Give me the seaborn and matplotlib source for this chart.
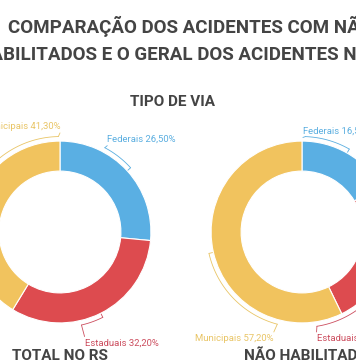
import numpy as np
import matplotlib.pyplot as plt
import seaborn as sns

# dados
categorias = ["Federais", "Estaduais", "Municipais"]
total_rs = [26.5, 32.2, 41.3]
nao_habilitados = [16.5, 26.3, 57.2]

titulo_1 = "COMPARAÇÃO DOS ACIDENTES COM NÃO"
titulo_2 = "HABILITADOS E O GERAL DOS ACIDENTES NO RS"
subtitulo = "TIPO DE VIA"
nome_total = "TOTAL NO RS"
nome_nh = "NÃO HABILITADOS"

cores = ["#5aafe3", "#dd4b4f", "#f1c35e"]
cores_texto = ["#5aaee0", "#cc4d5e", "#e9c566"]
cinza = "#444444"

sns.set_theme(style="white")
plt.rcParams['font.family'] = ['Roboto', 'DejaVu Sans']

W, H = 356, 364
fig = plt.figure(figsize=(W / 100, H / 100), dpi=100)
fig.patch.set_facecolor("white")


def fx(x):
    return x / W


def fy(y):
    return 1 - y / H


def fmt(v):
    return f"{v:.2f}".replace(".", ",") + "%"


# (angulo de ligacao, x texto, y texto, alinhamento) para cada categoria
layout_total = [(62, 0.52, 1.02, "left"), (-77, 0.27, -1.22, "left"), (91, 0.0, 1.16, "right")]
layout_nh = [(88, 0.01, 1.11, "left"), (-81, 0.16, -1.17, "left"), (255, -0.31, -1.17, "right")]


def donut(cx, cy, valores, layout):
    size = 240
    ax = fig.add_axes([fx(cx - size / 2), fy(cy + size / 2), size / W, size / H])
    ax.pie(valores, colors=cores, startangle=90, counterclock=False,
           wedgeprops=dict(width=0.33, edgecolor="white", linewidth=0.8))
    ax.set_xlim(-1.32, 1.32)
    ax.set_ylim(-1.32, 1.32)
    ax.set_aspect("equal")
    ax.axis("off")
    inicio = 90 - np.cumsum([0] + list(valores[:-1])) * 3.6
    meio = inicio - np.array(valores) * 1.8
    r = 1.05
    for i, (ang, tx, ty, ha) in enumerate(layout):
        m = meio[i]
        while ang - m > 180:
            ang -= 360
        while m - ang > 180:
            ang += 360
        t = np.radians(np.linspace(m, ang, 60))
        ax.plot(r * np.cos(t), r * np.sin(t), color=cores_texto[i], lw=0.6, clip_on=False)
        tm = np.radians(m)
        ax.plot([1.01 * np.cos(tm), r * np.cos(tm)], [1.01 * np.sin(tm), r * np.sin(tm)],
                color=cores_texto[i], lw=0.6, clip_on=False)
        ta = np.radians(ang)
        ey = ty - 0.07 if ty > 0 else ty + 0.07
        ax.plot([r * np.cos(ta), tx], [r * np.sin(ta), ey], color=cores_texto[i], lw=0.6, clip_on=False)
        ax.text(tx, ty, f"{categorias[i]} {fmt(valores[i])}", color=cores_texto[i],
                fontsize=6.8, ha=ha, va="center", clip_on=False)
    return ax


donut(60, 232, total_rs, layout_total)
donut(302, 232, nao_habilitados, layout_nh)

fig.text(fx(8), fy(33), titulo_1, ha="left", va="baseline", fontsize=13.5,
         fontweight="bold", color=cinza)
fig.text(fx(187), fy(60), titulo_2, ha="center", va="baseline", fontsize=13.5,
         fontweight="bold", color=cinza)
fig.text(fx(173), fy(106), subtitulo, ha="center", va="baseline", fontsize=11,
         fontweight="bold", color=cinza)
fig.text(fx(12), fy(359.5), nome_total, ha="left", va="baseline", fontsize=11,
         fontweight="bold", color=cinza)
fig.text(fx(244), fy(359.5), nome_nh, ha="left", va="baseline", fontsize=11,
         fontweight="bold", color=cinza)

fig.savefig("out.png", dpi=100, facecolor="white")
